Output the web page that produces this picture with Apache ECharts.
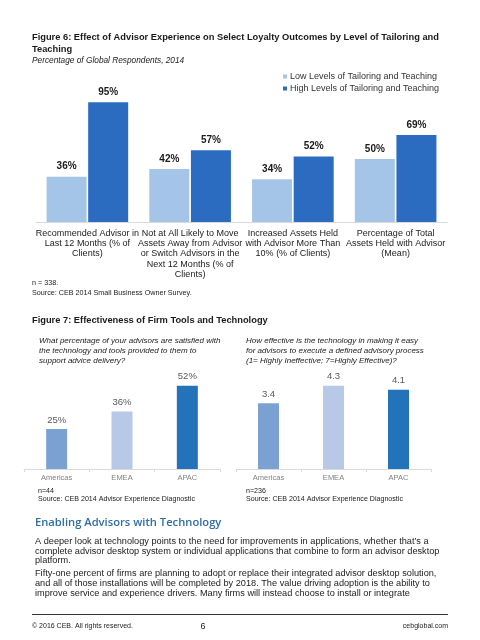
<!DOCTYPE html>
<html><head><meta charset="utf-8">
<script src="https://cdn.jsdelivr.net/npm/echarts@6/dist/echarts.min.js"></script>
<style>html,body{margin:0;padding:0;background:#fff}#c{width:480px;height:640px}</style>
</head><body><div id="c"></div>
<script>
// ---- Figure 6 data ----
const fig6Categories = [
  "Recommended Advisor in\nLast 12 Months (% of\nClients)",
  "Not at All Likely to Move\nAssets Away from Advisor\nor Switch Advisors in the\nNext 12 Months (% of\nClients)",
  "Increased Assets Held\nwith Advisor More Than\n10% (% of Clients)",
  "Percentage of Total\nAssets Held with Advisor\n(Mean)"
];
const fig6SeriesNames = ["Low Levels of Tailoring and Teaching", "High Levels of Tailoring and Teaching"];
const fig6Low = [36, 42, 34, 50];
const fig6High = [95, 57, 52, 69];

// ---- Figure 7 data ----
const fig7Regions = ["Americas", "EMEA", "APAC"];
const fig7Satisfied = [25, 36, 52];
const fig7Effectiveness = [3.4, 4.3, 4.1];

const FF = '"Liberation Sans", Arial, sans-serif';
const regionColors = ['#7BA0D2', '#B7C9E6', '#2373BA'];

function txt(text, x, y, opt) {
  opt = opt || {};
  return {
    type: 'text', x: x, y: y, silent: true,
    style: Object.assign({
      text: text, fill: '#1a1a1a', fontFamily: FF, fontSize: 9,
      verticalAlign: 'middle', align: 'left'
    }, opt)
  };
}

const chart = echarts.init(document.getElementById('c'), null, {renderer: 'canvas'});

const option = {
  backgroundColor: '#fff',
  animation: false,
  textStyle: {fontFamily: FF},
  legend: {
    data: fig6SeriesNames,
    orient: 'vertical',
    left: 278, top: 67,
    icon: 'rect', itemWidth: 4, itemHeight: 4, itemGap: 3,
    textStyle: {fontSize: 9, lineHeight: 9, color: '#333', fontFamily: FF, padding: [0, 0, 0, -2]},
    selectedMode: false
  },
  grid: [
    {left: 36, right: 33, top: 96, height: 126},
    {left: 24, width: 196, top: 309, height: 160},
    {left: 236, width: 195, top: 333.5, height: 135.5}
  ],
  xAxis: [
    {type: 'category', gridIndex: 0, data: fig6Categories,
      axisLine: {lineStyle: {color: '#d9d9d9'}}, axisTick: {show: false},
      axisLabel: {interval: 0, fontSize: 9, lineHeight: 10.3, color: '#1a1a1a', margin: 6, fontFamily: FF}},
    {type: 'category', gridIndex: 1, data: fig7Regions,
      axisLine: {lineStyle: {color: '#d9d9d9'}}, axisTick: {show: true, length: 3, lineStyle: {color: '#d9d9d9'}},
      axisLabel: {fontSize: 7.5, color: '#808080', margin: 5, fontFamily: FF}},
    {type: 'category', gridIndex: 2, data: fig7Regions,
      axisLine: {lineStyle: {color: '#d9d9d9'}}, axisTick: {show: true, length: 3, lineStyle: {color: '#d9d9d9'}},
      axisLabel: {fontSize: 7.5, color: '#808080', margin: 5, fontFamily: FF}}
  ],
  yAxis: [
    {type: 'value', gridIndex: 0, min: 0, max: 100, show: false},
    {type: 'value', gridIndex: 1, min: 0, max: 100, show: false},
    {type: 'value', gridIndex: 2, min: 0, max: 7, show: false}
  ],
  series: [
    {name: fig6SeriesNames[0], type: 'bar', xAxisIndex: 0, yAxisIndex: 0, data: fig6Low,
      barWidth: 40, barGap: '4%', itemStyle: {color: '#A4C4E8'},
      label: {show: true, position: 'top', distance: 5, formatter: '{c}%', fontWeight: 'bold', fontSize: 10, color: '#1a1a1a', fontFamily: FF}},
    {name: fig6SeriesNames[1], type: 'bar', xAxisIndex: 0, yAxisIndex: 0, data: fig6High,
      barWidth: 40, barGap: '4%', itemStyle: {color: '#2B6CC0'},
      label: {show: true, position: 'top', distance: 5, formatter: '{c}%', fontWeight: 'bold', fontSize: 10, color: '#1a1a1a', fontFamily: FF}},
    {name: 'satisfied', type: 'bar', xAxisIndex: 1, yAxisIndex: 1, barWidth: 21,
      data: fig7Satisfied.map((v, i) => ({value: v, itemStyle: {color: regionColors[i]}})),
      label: {show: true, position: 'top', distance: 4, formatter: '{c}%', fontSize: 9.5, color: '#595959', fontFamily: FF}},
    {name: 'effectiveness', type: 'bar', xAxisIndex: 2, yAxisIndex: 2, barWidth: 21,
      data: fig7Effectiveness.map((v, i) => ({value: v, itemStyle: {color: regionColors[i]}})),
      label: {show: true, position: 'top', distance: 4, formatter: p => p.value.toFixed(1), fontSize: 9.5, color: '#595959', fontFamily: FF}}
  ],
  graphic: [
    txt('Figure 6: Effect of Advisor Experience on Select Loyalty Outcomes by Level of Tailoring and', 32, 37.5, {fontWeight: 'bold', fontSize: 9.3}),
    txt('Teaching', 32, 49, {fontWeight: 'bold', fontSize: 9.3}),
    txt('Percentage of Global Respondents, 2014', 32, 61, {fontStyle: 'italic', fontSize: 8.3}),
    txt('n = 338.', 32, 283, {fontSize: 7.2}),
    txt('Source: CEB 2014 Small Business Owner Survey.', 32, 293, {fontSize: 7.2}),
    txt('Figure 7: Effectiveness of Firm Tools and Technology', 32, 320, {fontWeight: 'bold', fontSize: 9.3}),
    txt('What percentage of your advisors are satisfied with', 39, 341, {fontStyle: 'italic', fontSize: 8}),
    txt('the technology and tools provided to them to', 39, 351, {fontStyle: 'italic', fontSize: 8}),
    txt('support advice delivery?', 39, 361, {fontStyle: 'italic', fontSize: 8}),
    txt('How effective is the technology in making it easy', 246, 341, {fontStyle: 'italic', fontSize: 8}),
    txt('for advisors to execute a defined advisory process', 246, 351, {fontStyle: 'italic', fontSize: 8}),
    txt('(1= Highly Ineffective; 7=Highly Effective)?', 246, 361, {fontStyle: 'italic', fontSize: 8}),
    txt('n=44', 38, 491, {fontSize: 7.1}),
    txt('Source: CEB 2014 Advisor Experience Diagnostic', 38, 499.5, {fontSize: 7.1}),
    txt('n=236', 246, 491, {fontSize: 7.1}),
    txt('Source: CEB 2014 Advisor Experience Diagnostic', 246, 499.5, {fontSize: 7.1}),
    txt('Enabling Advisors with Technology', 35, 523, {fontFamily: '"Open Sans", sans-serif', fontWeight: 600, fontSize: 11.2, fill: '#2F6DA5'}),
    txt('A deeper look at technology points to the need for improvements in applications, whether that\u2019s a', 35, 541, {fontSize: 9.2}),
    txt('complete advisor desktop system or individual applications that combine to form an advisor desktop', 35, 551, {fontSize: 9.2}),
    txt('platform.', 35, 560.5, {fontSize: 9.2}),
    txt('Fifty-one percent of firms are planning to adopt or replace their integrated advisor desktop solution,', 35, 573, {fontSize: 9.2}),
    txt('and all of those installations will be completed by 2018. The value driving adoption is the ability to', 35, 583, {fontSize: 9.2}),
    txt('improve service and experience drivers. Many firms will instead choose to install or integrate', 35, 593, {fontSize: 9.2}),
    {type: 'line', silent: true, shape: {x1: 32, y1: 614.5, x2: 448, y2: 614.5}, style: {stroke: '#333', lineWidth: 1}},
    txt('\u00A9 2016 CEB. All rights reserved.', 32, 626, {fontSize: 7}),
    txt('6', 203, 627, {fontSize: 9, align: 'center'}),
    txt('cebglobal.com', 448, 626, {fontSize: 7, align: 'right'})
  ]
};
chart.setOption(option);
</script>
</body></html>
